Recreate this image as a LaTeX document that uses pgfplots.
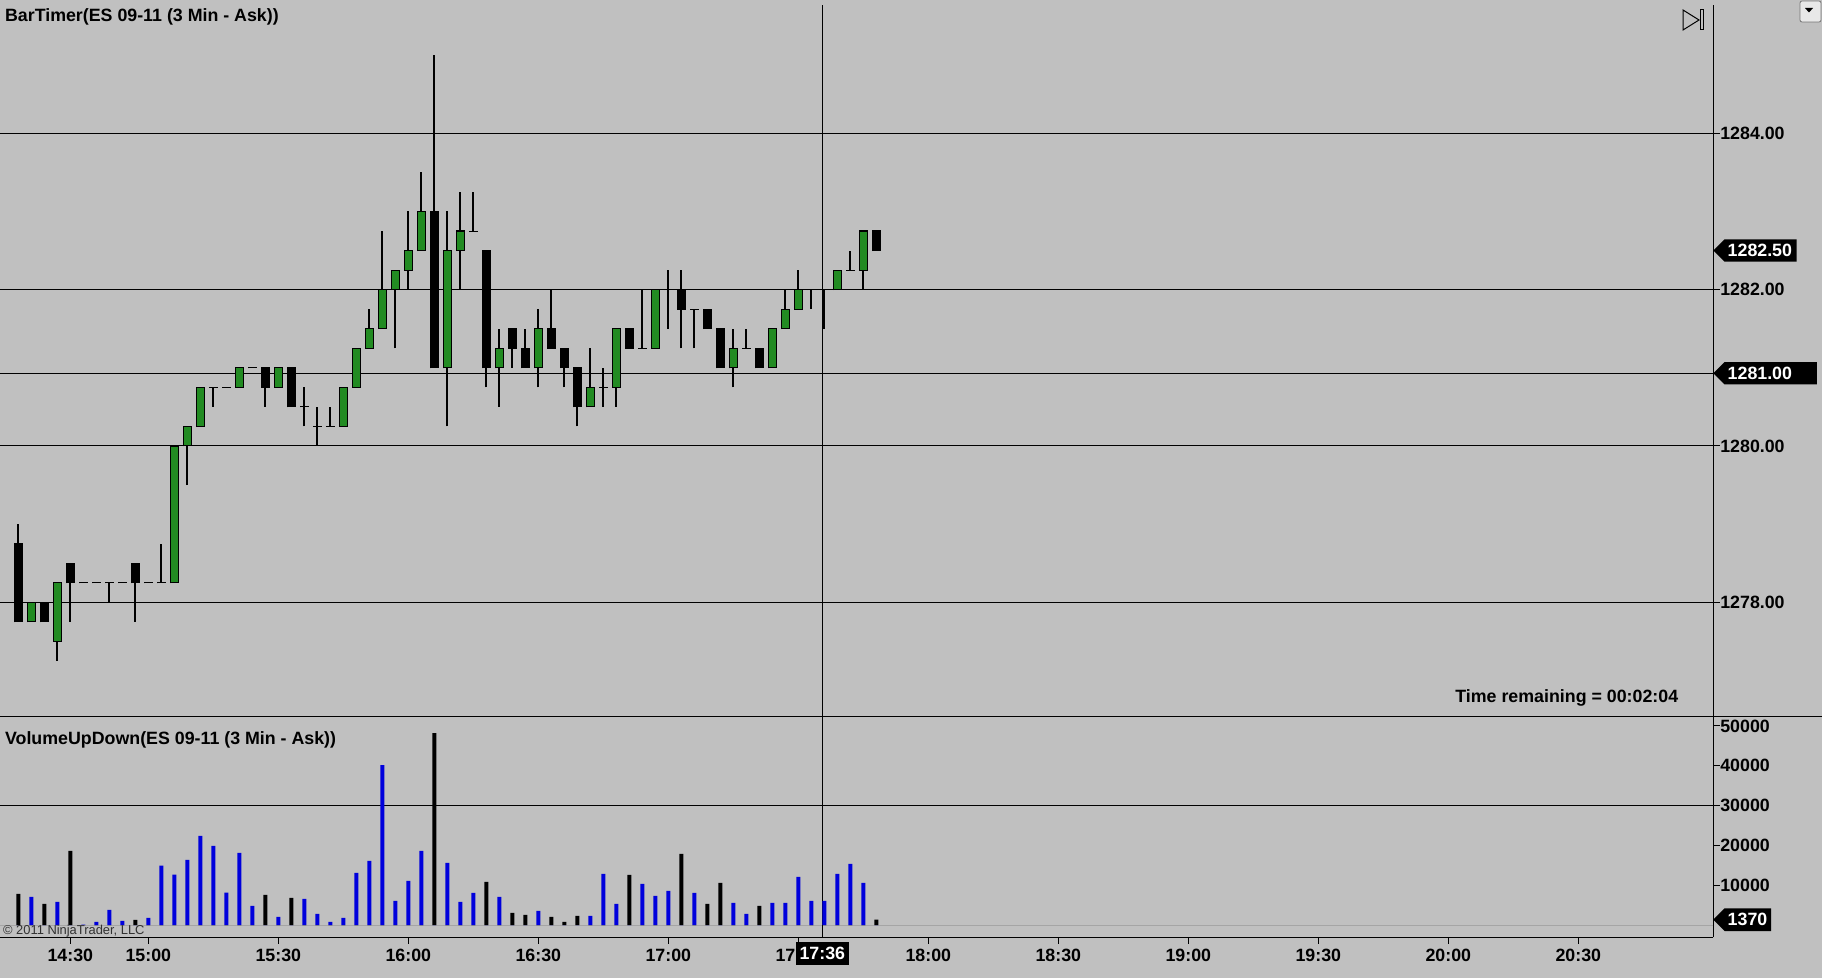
\documentclass[border=0pt]{standalone}
\usepackage{fontspec}
\setmainfont{Liberation Sans}
\usepackage{pgfplots}
\pgfplotsset{compat=1.18}
\usepackage{pgfplotstable}
\definecolor{bg}{RGB}{192,192,192}
\definecolor{upgreen}{RGB}{34,139,34}
\definecolor{vblue}{RGB}{0,0,220}
\definecolor{zline}{RGB}{165,165,165}
\definecolor{cgray}{RGB}{50,50,50}
\newcommand\lab{\fontsize{8.9}{10}\selectfont\bfseries}

\pgfplotstableread{
i O H L C V
0 1278.75 1279.00 1277.75 1277.75 7850
1 1277.75 1278.00 1277.75 1278.00 7100
2 1278.00 1278.00 1277.75 1277.75 5340
3 1277.50 1278.25 1277.25 1278.25 5840
4 1278.50 1278.50 1277.75 1278.25 18620
5 1278.25 1278.25 1278.25 1278.25 150
6 1278.25 1278.25 1278.25 1278.25 830
7 1278.25 1278.25 1278.00 1278.25 3830
8 1278.25 1278.25 1278.25 1278.25 1080
9 1278.50 1278.50 1277.75 1278.25 1330
10 1278.25 1278.25 1278.25 1278.25 1830
11 1278.25 1278.75 1278.25 1278.25 14940
12 1278.25 1280.00 1278.25 1280.00 12680
13 1280.00 1280.25 1279.50 1280.25 16370
14 1280.25 1280.75 1280.25 1280.75 22380
15 1280.75 1280.75 1280.50 1280.75 19870
16 1280.75 1280.75 1280.75 1280.75 8170
17 1280.75 1281.00 1280.75 1281.00 18120
18 1281.00 1281.00 1281.00 1281.00 4840
19 1281.00 1281.00 1280.50 1280.75 7590
20 1280.75 1281.00 1280.75 1281.00 2080
21 1281.00 1281.00 1280.50 1280.50 6840
22 1280.50 1280.75 1280.25 1280.50 6590
23 1280.25 1280.50 1280.00 1280.25 2830
24 1280.25 1280.50 1280.25 1280.25 830
25 1280.25 1280.75 1280.25 1280.75 1830
26 1280.75 1281.25 1280.75 1281.25 13110
27 1281.25 1281.75 1281.25 1281.50 16120
28 1281.50 1282.75 1281.50 1282.00 40180
29 1282.00 1282.25 1281.25 1282.25 6090
30 1282.25 1283.00 1282.00 1282.50 11100
31 1282.50 1283.50 1282.50 1283.00 18620
32 1283.00 1285.00 1281.00 1281.00 48200
33 1281.00 1283.00 1280.25 1282.50 15610
34 1282.50 1283.25 1282.00 1282.75 5840
35 1282.75 1283.25 1282.75 1282.75 8100
36 1282.50 1282.50 1280.75 1281.00 10850
37 1281.00 1281.50 1280.50 1281.25 7100
38 1281.50 1281.50 1281.00 1281.25 3080
39 1281.25 1281.50 1281.00 1281.00 2580
40 1281.00 1281.75 1280.75 1281.50 3580
41 1281.50 1282.00 1281.25 1281.25 2080
42 1281.25 1281.25 1280.75 1281.00 830
43 1281.00 1281.00 1280.25 1280.50 2330
44 1280.50 1281.25 1280.50 1280.75 2330
45 1280.75 1281.00 1280.50 1280.75 12860
46 1280.75 1281.50 1280.50 1281.50 5340
47 1281.50 1281.50 1281.25 1281.25 12610
48 1281.25 1282.00 1281.25 1281.25 10350
49 1281.25 1282.00 1281.25 1282.00 7340
50 1282.00 1282.25 1281.50 1282.00 8600
51 1282.00 1282.25 1281.25 1281.75 17870
52 1281.75 1281.75 1281.25 1281.75 8100
53 1281.75 1281.75 1281.50 1281.50 5340
54 1281.50 1281.50 1281.00 1281.00 10600
55 1281.00 1281.50 1280.75 1281.25 5590
56 1281.25 1281.50 1281.25 1281.25 2830
57 1281.25 1281.25 1281.00 1281.00 4840
58 1281.00 1281.50 1281.00 1281.50 5590
59 1281.50 1282.00 1281.50 1281.75 5590
60 1281.75 1282.25 1281.75 1282.00 12100
61 1282.00 1282.00 1281.75 1282.00 6090
62 1282.00 1282.00 1281.50 1282.00 6090
63 1282.00 1282.25 1282.00 1282.25 12860
64 1282.25 1282.50 1282.25 1282.25 15360
65 1282.25 1282.75 1282.00 1282.75 10600
66 1282.75 1282.75 1282.50 1282.50 1370
}\candles

\pgfplotsset{
  panel/.style={
    scale only axis, width=856.65pt,
    xmin=-1.408, xmax=130.385,
    clip=false,
    axis y line*=right,
    tick align=outside,
    major tick length=3.3pt,
    minor tick num=0,
    tick style={black, line width=0.5pt},
    axis line style={black, line width=0.5pt},
    ticklabel style={font=\lab, inner sep=0pt},
    yticklabel style={anchor=west},
    scaled y ticks=false,
  },
  candle/.style 2 args={draw=none, no markers,
    error bars/.cd, y dir=plus, y explicit, error mark=none,
    error bar style={draw=#1, line width=#2}},
}

\begin{document}
\begin{tikzpicture}
\useasboundingbox (0,0) rectangle (911pt,-489pt);
\fill[bg] (0,0) rectangle (911pt,-489pt);
\begin{scope}[x=0.5pt,y=-0.5pt]
  \draw[black, line width=0.5pt] (0,716) -- (1822,716);
  % top-right icons
  \draw[black, line width=0.5pt] (1683,10) -- (1683,30) -- (1699,20) -- cycle;
  \draw[black, line width=0.5pt] (1700.5,10) rectangle (1703.5,30);
  \draw[fill={rgb,255:red,232;green,232;blue,232}, draw={rgb,255:red,120;green,120;blue,120}, line width=0.4pt, rounded corners=1pt] (1800,1) rectangle (1821,22);
  \fill[black] (1805,8) -- (1813,8) -- (1809,12.5) -- cycle;
  \node[anchor=base west, inner sep=0pt, font=\lab] at (4.7,22) {BarTimer(ES 09-11 (3 Min - Ask))};
  \node[anchor=base west, inner sep=0pt, font=\lab] at (4.7,744.3) {VolumeUpDown(ES 09-11 (3 Min - Ask))};
  \node[anchor=base west, inner sep=0pt, font=\lab] at (1455,702.3) {Time remaining = 00:02:04};
\end{scope}

% ---------------- price panel ----------------
\begin{axis}[panel,
  at={(0pt,-2.5pt)}, anchor=north west,
  height=355.5pt,
  ymin=1276.546, ymax=1285.641,
  axis x line=none,
  ytick={1278,1280,1282,1284},
  yticklabels={1278.00,1280.00,1282.00,1284.00},
  ymajorgrids, major grid style={black, line width=0.5pt},
]
\addplot [black, line width=0.5pt] coordinates {(-1.408,1280.93) (130.385,1280.93)};
\addplot [black, line width=0.5pt] coordinates {(61.85,1276.546) (61.85,1285.641)};
% wicks
\addplot [candle={black}{1pt}]
  table [x=i, y=L, y error plus expr={\thisrow{H}-\thisrow{L}}] {\candles};
% body outlines / down bodies
\addplot [candle={black}{4.35pt}]
  table [x=i, y expr={min(\thisrow{O},\thisrow{C})-0.0064},
         y error plus expr={abs(\thisrow{C}-\thisrow{O})+0.0128}] {\candles};
% up bodies
\addplot [candle={upgreen}{3.35pt}]
  table [x=i, y expr={\thisrow{O}+0.0064},
         y error plus expr={max(\thisrow{C}-\thisrow{O}-0.0128,0)}] {\candles};
% price markers
\fill[black] (axis cs:130.385,1282.5) -- ++(5.6pt,5.6pt) -- ++(36.1pt,0pt) -- ++(0pt,-11.2pt) -- ++(-36.1pt,0pt) -- cycle;
\node[anchor=west, xshift=7pt, inner sep=0pt, text=white, font=\lab] at (axis cs:130.385,1282.5) {1282.50};
\fill[black] (axis cs:130.385,1280.93) -- ++(5.6pt,5.6pt) -- ++(46.2pt,0pt) -- ++(0pt,-11.2pt) -- ++(-46.2pt,0pt) -- cycle;
\node[anchor=west, xshift=7pt, inner sep=0pt, text=white, font=\lab] at (axis cs:130.385,1280.93) {1281.00};
\end{axis}

% ---------------- volume panel ----------------
\begin{axis}[panel,
  at={(0pt,-358pt)}, anchor=north west,
  height=110.65pt,
  ymin=-3062, ymax=52484,
  axis x line*=bottom,
  xtick={4,10,20,30,40,50,60,70,80,90,100,110,120},
  xticklabels={14:30,15:00,15:30,16:00,16:30,17:00,17:30,18:00,18:30,19:00,19:30,20:00,20:30},
  xticklabel style={anchor=north, yshift=-2.5pt},
  ytick={10000,20000,30000,40000,50000},
  yticklabels={10000,20000,30000,40000,50000},
]
\addplot [zline, line width=0.6pt] coordinates {(-1.408,0) (130.385,0)};
\addplot [black, line width=0.5pt] coordinates {(-1.408,30000) (130.385,30000)};
\addplot [black, line width=0.5pt] coordinates {(61.85,-3062) (61.85,52484)};
\addplot [ybar, bar width=2pt, bar shift=0pt, fill=vblue, draw=none]
  table [x=i, y expr={\thisrow{C}<\thisrow{O} ? 0 : \thisrow{V}}] {\candles};
\addplot [ybar, bar width=2pt, bar shift=0pt, fill=black, draw=none]
  table [x=i, y expr={\thisrow{C}<\thisrow{O} ? \thisrow{V} : 0}] {\candles};
\fill[black] (axis cs:130.385,1370) -- ++(5.6pt,5.67pt) -- ++(23.25pt,0pt) -- ++(0pt,-11.35pt) -- ++(-23.25pt,0pt) -- cycle;
\node[anchor=west, xshift=7pt, inner sep=0pt, text=white, font=\lab] at (axis cs:130.385,1370) {1370};
\coordinate (ch) at (axis cs:61.85,-3062);
\end{axis}

\node[fill=black, text=white, font=\lab, minimum width=26.2pt, minimum height=11.35pt, inner sep=0pt] at ([yshift=-8.2pt]ch) {17:36};
\begin{scope}[x=0.5pt,y=-0.5pt]
  \node[anchor=base west, inner sep=0pt, font=\fontsize{6.45}{7}\selectfont, text=cgray] at (2.7,934.3) {© 2011 NinjaTrader, LLC};
\end{scope}
\end{tikzpicture}
\end{document}
